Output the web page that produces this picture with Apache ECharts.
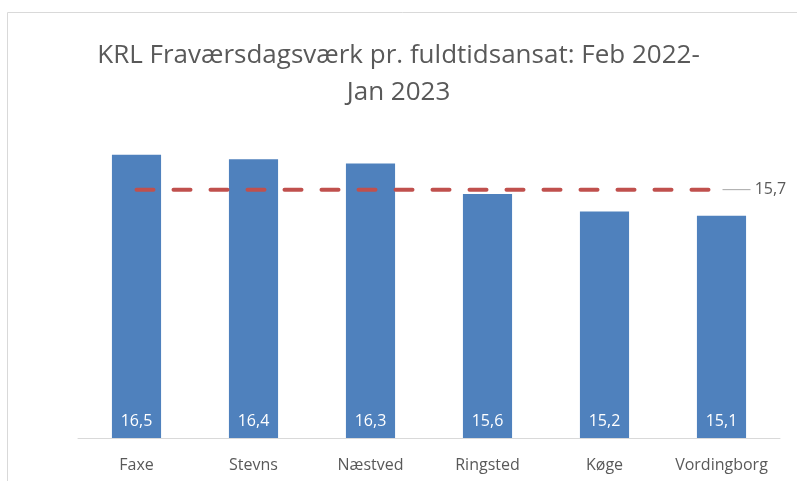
<!DOCTYPE html>
<html>
<head>
<meta charset="utf-8">
<script src="https://cdn.jsdelivr.net/npm/echarts@6/dist/echarts.min.js"></script>
<style>
  html, body { margin: 0; padding: 0; background: #fff; }
  #main { width: 797px; height: 481px; }
</style>
</head>
<body>
<div id="main"></div>
<script>
// kommuner og værdier
const categories = ['Faxe', 'Stevns', 'Næstved', 'Ringsted', 'Køge', 'Vordingborg'];
const values = [16.5, 16.4, 16.3, 15.6, 15.2, 15.1];
const average = [15.7, 15.7, 15.7, 15.7, 15.7, 15.7];

const fmt = (v) => String(v).replace('.', ',');
const font = 'Open Sans';

const chart = echarts.init(document.getElementById('main'));

chart.setOption({
  animation: false,
  title: {
    text: 'KRL Fraværsdagsværk pr. fuldtidsansat: Feb 2022-\nJan 2023',
    left: 'center',
    top: 32,
    textStyle: {
      fontFamily: font,
      fontSize: 26,
      fontWeight: 'normal',
      color: '#595959',
      lineHeight: 37,
    },
  },
  graphic: [
    {
      type: 'rect',
      shape: { x: 7.5, y: 12.5, width: 800, height: 480 },
      style: { fill: 'none', stroke: '#d9d9d9', lineWidth: 1 },
      silent: true,
    },
  ],
  grid: { left: 78, right: 17, top: 133, bottom: 43 },
  xAxis: {
    type: 'category',
    data: categories,
    axisLine: { lineStyle: { color: '#d9d9d9', width: 1 } },
    axisTick: { show: false },
    axisLabel: {
      interval: 0,
      color: '#595959',
      fontFamily: font,
      fontSize: 16,
      margin: 19,
    },
  },
  yAxis: {
    type: 'value',
    min: 10,
    max: 17,
    show: false,
    splitLine: { show: false },
  },
  series: [
    {
      type: 'bar',
      data: values,
      barWidth: '42%',
      itemStyle: { color: '#4F81BD' },
      label: {
        show: true,
        position: 'insideBottom',
        distance: 9,
        color: '#ffffff',
        fontFamily: font,
        fontSize: 16,
        formatter: (p) => fmt(p.value),
      },
      z: 2,
    },
    {
      type: 'line',
      data: average,
      symbol: 'none',
      lineStyle: {
        color: '#C0504D',
        width: 4,
        type: [17, 20],
        cap: 'round',
      },
      endLabel: {
        show: true,
        distance: 1,
        formatter: (p) => '{lead|} ' + fmt(p.value),
        color: '#595959',
        fontFamily: font,
        fontSize: 16,
        rich: {
          lead: { width: 28, height: 1, backgroundColor: '#a6a6a6' },
        },
      },
      z: 3,
    },
  ],
});
</script>
</body>
</html>
